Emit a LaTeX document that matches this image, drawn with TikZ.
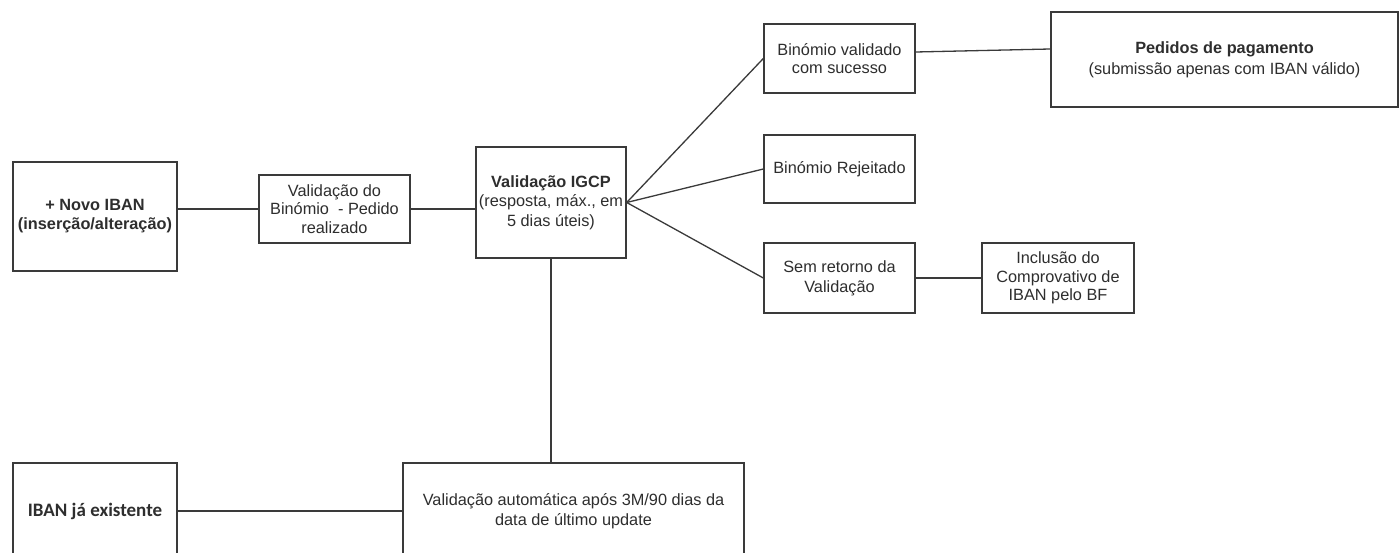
\documentclass[tikz,border=0pt]{standalone}
\usepackage{fontspec}
\setmainfont{Liberation Sans}
\newfontfamily\calib{Carlito}
\definecolor{edge}{HTML}{3A3A3A}
\definecolor{txt}{HTML}{2E2E2E}
\begin{document}
\begin{tikzpicture}[x=1pt,y=-1pt,
  box/.style={draw=edge,line width=1.4pt,fill=white,inner sep=0pt,align=center,
    text=txt,font=\fontsize{16.3}{18.5}\selectfont},
  link/.style={draw=edge,line width=1.3pt}]
\useasboundingbox (0,0) rectangle (1400,553);
\clip (0,0) rectangle (1400,553);
\fill[white] (0,0) rectangle (1400,553);

\node[box,minimum width=164,minimum height=109,font=\bfseries\fontsize{16.3}{19}\selectfont] (novo) at (95,216.5) {+ Novo IBAN\\(inserção/alteração)};
\node[box,minimum width=151,minimum height=68] (bin) at (334.5,209) {Validação do\\Binómio\ \ - Pedido\\realizado};
\node[box,minimum width=150,minimum height=111,font=\fontsize{16.3}{19.5}\selectfont] (igcp) at (551,202.5) {\textbf{Validação IGCP}\\(resposta, máx., em\\5 dias úteis)};
\node[box,minimum width=151,minimum height=69] (bv) at (839.5,58.5) {Binómio validado\\com sucesso};
\node[box,minimum width=347,minimum height=95,font=\fontsize{16.3}{21}\selectfont] (ped) at (1224.5,59.5) {\textbf{Pedidos de pagamento}\\(submissão apenas com IBAN válido)};
\node[box,minimum width=151,minimum height=68] (rej) at (839.5,169) {Binómio Rejeitado};
\node[box,minimum width=151,minimum height=70,font=\fontsize{16.3}{20}\selectfont] (sem) at (839.5,278) {Sem retorno da\\Validação};
\node[box,minimum width=152,minimum height=70] (inc) at (1058,278) {Inclusão do\\Comprovativo de\\IBAN pelo BF};
\node[box,minimum width=164,minimum height=96,font=\calib\bfseries\fontsize{19}{21}\selectfont] (iban) at (95,511) {IBAN já existente};
\node[box,minimum width=341,minimum height=96,font=\fontsize{16.3}{20}\selectfont] (auto) at (573.5,511) {Validação automática após 3M/90 dias da\\data de último update};

\draw[link] (novo.east |- bin.west) -- (bin.west);
\draw[link] (bin.east) -- (bin.east -| igcp.west);
\draw[link] (igcp.east) -- (bv.west);
\draw[link] (igcp.east) -- (rej.west);
\draw[link] (igcp.east) -- (sem.west);
\draw[link] ([yshift=6.5]bv.east) -- ([yshift=10.5]ped.west);
\draw[link] (sem.east) -- (inc.west);
\draw[link] (igcp.south) -- (igcp.south |- auto.north);
\draw[link] (iban.east) -- (auto.west);
\end{tikzpicture}
\end{document}
